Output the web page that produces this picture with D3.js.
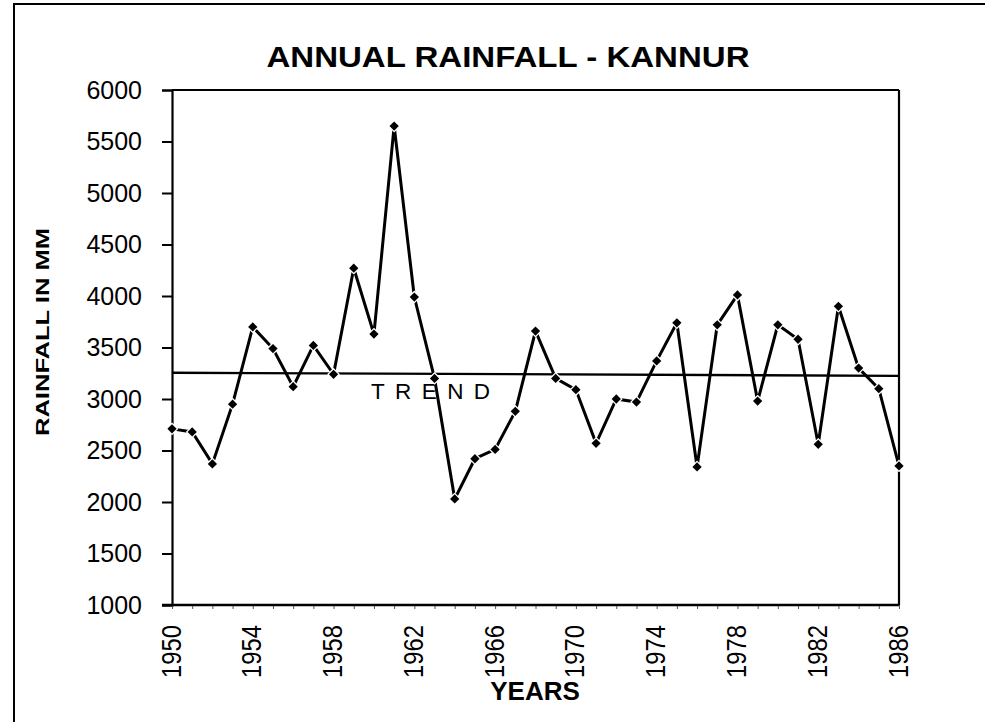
<!DOCTYPE html>
<html><head><meta charset="utf-8">
<script src="https://cdn.jsdelivr.net/npm/d3@7"></script>
<style>
html,body{margin:0;padding:0;background:#fff;}
svg{display:block;font-family:"Liberation Sans",Arial,sans-serif;}
</style></head>
<body>
<svg id="chart" width="985" height="722"></svg>
<script>
const years = d3.range(1950, 1987);
const rainfall = [2710,2680,2370,2950,3700,3490,3120,3520,3240,4270,3630,5650,3990,3200,2030,2420,2510,2880,3660,3200,3090,2570,3000,2970,3370,3740,2340,3720,4010,2980,3720,3580,2560,3900,3300,3100,2350];
const trendYears = [1950, 1986];
const trendValues = [3255, 3225];
const yTicks = [1000,1500,2000,2500,3000,3500,4000,4500,5000,5500,6000];
const xLabelYears = [1950,1954,1958,1962,1966,1970,1974,1978,1982,1986];
const titleText = "ANNUAL RAINFALL - KANNUR";
const xTitle = "YEARS";
const yTitle = "RAINFALL IN MM";
const trendLabel = "TREND";

const svg = d3.select("#chart");
const L = 172, R = 899, T = 90, B = 605;
const x = d3.scaleLinear().domain([1950, 1986]).range([L, R]);
const y = d3.scaleLinear().domain([1000, 6000]).range([B, T]);

// outer frame
svg.append("rect").attr("x",14).attr("y",4).attr("width",1000).attr("height",1000)
  .attr("fill","none").attr("stroke","#000").attr("stroke-width",2);

// title
svg.append("text").attr("x",508).attr("y",67).attr("text-anchor","middle")
  .attr("font-size",29).attr("font-weight","bold")
  .attr("textLength",483).attr("lengthAdjust","spacingAndGlyphs").text(titleText);

// plot box top & right
svg.append("line").attr("x1",L).attr("x2",R).attr("y1",T).attr("y2",T).attr("stroke","#000").attr("stroke-width",2.2);
svg.append("line").attr("x1",R).attr("x2",R).attr("y1",T).attr("y2",B).attr("stroke","#000").attr("stroke-width",2.2);

// y axis
const yAxis = d3.axisLeft(y).tickValues(yTicks).tickSize(10).tickPadding(20).tickFormat(d3.format("d"));
const gy = svg.append("g").attr("transform",`translate(${L},0)`).call(yAxis);
gy.select(".domain").attr("stroke-width",2.2);
gy.selectAll(".tick line").attr("stroke-width",2);
gy.selectAll(".tick text").attr("font-size",25).attr("font-family","Liberation Sans, Arial, sans-serif").attr("fill","#000");

// x axis (minor ticks each year)
const xAxis = d3.axisBottom(x).tickValues(years).tickSize(4).tickFormat("");
const gx = svg.append("g").attr("transform",`translate(0,${B})`).call(xAxis);
gx.select(".domain").remove();
gx.selectAll(".tick line").attr("stroke","#555").attr("stroke-width",1);
svg.append("line").attr("x1",L-10).attr("x2",R).attr("y1",B).attr("y2",B).attr("stroke","#000").attr("stroke-width",2.5);

// x labels rotated
svg.append("g").selectAll("text").data(xLabelYears).join("text")
  .attr("transform", d => `translate(${x(d)+8.5},${B+20}) rotate(-90)`)
  .attr("text-anchor","end").attr("font-size",28)
  .attr("textLength",53).attr("lengthAdjust","spacingAndGlyphs")
  .text(d => d);

// axis titles
svg.append("text").attr("x",535).attr("y",700).attr("text-anchor","middle")
  .attr("font-size",26).attr("font-weight","bold").text(xTitle);
svg.append("text").attr("transform","translate(49,332) rotate(-90)").attr("text-anchor","middle")
  .attr("font-size",19).attr("font-weight","bold")
  .attr("textLength",208).attr("lengthAdjust","spacingAndGlyphs").text(yTitle);

// trend line
const trend = trendYears.map((yr,i)=>[yr, trendValues[i]]);
svg.append("path").datum(trend)
  .attr("d", d3.line().x(d=>x(d[0])).y(d=>y(d[1])))
  .attr("stroke","#000").attr("stroke-width",2.4).attr("fill","none");
svg.append("text").attr("x",371).attr("y",399).attr("font-size",22.5)
  .attr("textLength",119).attr("lengthAdjust","spacing").text(trendLabel);

// series
const data = years.map((yr,i)=>[yr, rainfall[i]]);
svg.append("path").datum(data)
  .attr("d", d3.line().x(d=>x(d[0])).y(d=>y(d[1])))
  .attr("stroke","#000").attr("stroke-width",3).attr("fill","none").attr("stroke-linejoin","miter");
const sym = d3.symbol().type(d3.symbolDiamond2).size(55);
svg.append("g").selectAll("path").data(data).join("path")
  .attr("transform", d=>`translate(${x(d[0])},${y(d[1])})`)
  .attr("d", sym).attr("fill","#000").attr("stroke","#fff").attr("stroke-width",2.5)
  .attr("paint-order","stroke");
</script>
</body></html>
